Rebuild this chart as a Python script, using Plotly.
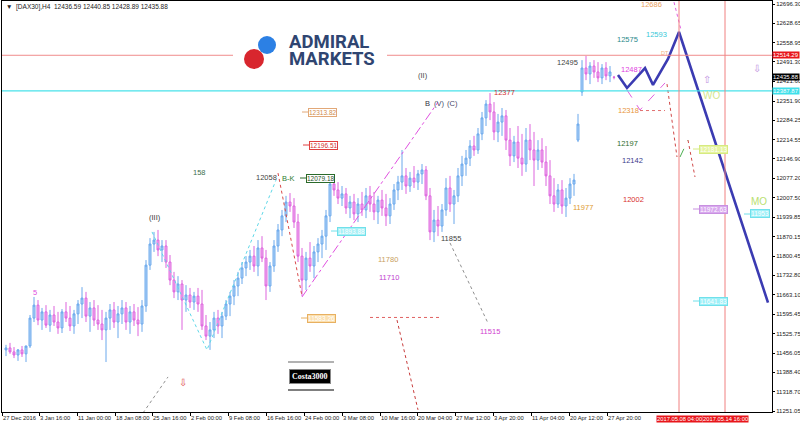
import plotly.graph_objects as go

# ---------------- data ----------------
opens = [11468, 11475, 11461, 11450, 11468, 11454, 11482, 11581, 11627, 11574,
         11603, 11556, 11592, 11567, 11546, 11603, 11581, 11553, 11596, 11631,
         11652, 11588, 11617, 11574, 11560, 11539, 11581, 11610, 11567, 11596,
         11617, 11567, 11603, 11574, 11560, 11624, 11769, 11844, 11858, 11823,
         11837, 11780, 11716, 11674, 11702, 11645, 11663, 11638, 11659, 11631,
         11553, 11517, 11539, 11581, 11553, 11588, 11631, 11659, 11695, 11723,
         11759, 11780, 11801, 11766, 11830, 11794, 11695, 11766, 11837, 11894,
         11944, 11993, 11979, 11922, 11801, 11716, 11794, 11766, 11816, 11844,
         11872, 11944, 12057, 12036, 12007, 12022, 11972, 11993, 11951, 11986,
         11965, 12015, 11986, 11958, 12000, 11972, 11944, 11986, 12036, 12064,
         12086, 12050, 12078, 12064, 12093, 12107, 12015, 11887, 11929, 11908,
         11965, 12043, 11986, 12015, 12086, 12128, 12149, 12192, 12178, 12235,
         12292, 12341, 12313, 12242, 12277, 12299, 12213, 12157, 12206, 12149,
         12128, 12213, 12178, 12142, 12178, 12135, 12086, 12015, 11986, 12036,
         11979, 12007, 12057, 12213, 12384, 12469, 12448, 12476, 12455, 12434,
         12469, 12441, 12436.59]
highs = [11486, 11493, 11478, 11471, 11482, 11475, 11592, 11656, 11645, 11617,
         11627, 11610, 11624, 11603, 11613, 11638, 11624, 11610, 11645, 11691,
         11674, 11638, 11645, 11627, 11610, 11603, 11631, 11638, 11624, 11645,
         11638, 11624, 11631, 11620, 11645, 11787, 11865, 11887, 11894, 11858,
         11858, 11805, 11745, 11730, 11716, 11698, 11688, 11674, 11688, 11681,
         11592, 11567, 11603, 11610, 11603, 11645, 11674, 11716, 11745, 11780,
         11801, 11823, 11837, 11858, 11872, 11823, 11780, 11858, 11915, 11965,
         12015, 12025, 12007, 11951, 11830, 11816, 11851, 11837, 11865, 11894,
         11965, 12078, 12086, 12064, 12050, 12043, 12015, 12022, 12007, 12029,
         12043, 12050, 12029, 12015, 12036, 12022, 12007, 12057, 12086, 12178,
         12114, 12100, 12121, 12107, 12128, 12121, 12043, 11965, 11979, 11986,
         12078, 12086, 12036, 12114, 12157, 12178, 12213, 12228, 12256, 12313,
         12355, 12380, 12348, 12306, 12327, 12320, 12256, 12228, 12263, 12235,
         12256, 12270, 12242, 12213, 12220, 12192, 12142, 12078, 12057, 12071,
         12043, 12078, 12093, 12306, 12497, 12512, 12490, 12497, 12490, 12483,
         12490, 12476, 12440.85]
lows = [11446, 11454, 11439, 11429, 11443, 11425, 11475, 11567, 11556, 11539,
        11546, 11532, 11553, 11525, 11528, 11567, 11535, 11525, 11560, 11581,
        11567, 11532, 11553, 11539, 11503, 11425, 11539, 11546, 11510, 11560,
        11539, 11525, 11553, 11517, 11532, 11603, 11752, 11816, 11801, 11780,
        11759, 11698, 11652, 11645, 11539, 11603, 11617, 11610, 11603, 11539,
        11503, 11468, 11510, 11525, 11510, 11574, 11588, 11627, 11659, 11702,
        11730, 11752, 11745, 11730, 11780, 11645, 11674, 11745, 11816, 11872,
        11922, 11958, 11901, 11780, 11659, 11681, 11745, 11723, 11780, 11794,
        11823, 11922, 12015, 11986, 11979, 11951, 11936, 11929, 11922, 11944,
        11936, 11958, 11929, 11915, 11944, 11908, 11915, 11965, 12000, 12036,
        12022, 12029, 12043, 12036, 12057, 12000, 11858, 11851, 11872, 11887,
        11944, 11958, 11915, 11993, 12050, 12086, 12121, 12157, 12164, 12213,
        12263, 12284, 12213, 12206, 12228, 12178, 12121, 12135, 12114, 12086,
        12100, 12142, 12050, 12107, 12114, 12050, 11986, 11958, 11972, 11951,
        11940, 11986, 12015, 12206, 12370, 12426, 12412, 12434, 12419, 12412,
        12426, 12419, 12428.89]
closes = [11475, 11461, 11450, 11468, 11454, 11482, 11581, 11627, 11574, 11603,
          11556, 11592, 11567, 11546, 11603, 11581, 11553, 11596, 11631, 11652,
          11588, 11617, 11574, 11560, 11539, 11581, 11610, 11567, 11596, 11617,
          11567, 11603, 11574, 11560, 11624, 11769, 11844, 11858, 11823, 11837,
          11780, 11716, 11674, 11702, 11645, 11663, 11638, 11659, 11631, 11553,
          11517, 11539, 11581, 11553, 11588, 11631, 11659, 11695, 11723, 11759,
          11780, 11801, 11766, 11830, 11794, 11695, 11766, 11837, 11894, 11944,
          11993, 11979, 11922, 11801, 11716, 11794, 11766, 11816, 11844, 11872,
          11944, 12057, 12036, 12007, 12022, 11972, 11993, 11951, 11986, 11965,
          12015, 11986, 11958, 12000, 11972, 11944, 11986, 12036, 12064, 12086,
          12050, 12078, 12064, 12093, 12107, 12015, 11887, 11929, 11908, 11965,
          12043, 11986, 12015, 12086, 12128, 12149, 12192, 12178, 12235, 12292,
          12341, 12313, 12242, 12277, 12299, 12213, 12157, 12206, 12149, 12128,
          12213, 12178, 12142, 12178, 12135, 12086, 12015, 11986, 12036, 11979,
          12007, 12057, 12071, 12270, 12469, 12448, 12476, 12455, 12434, 12469,
          12441, 12455, 12435.88]

# x-axis labels (bar positions) and texts
x_tick_pos = [-1, 8.25, 17.75, 27.25, 36.5, 46, 55.5, 65, 74.5, 84, 93.5,
              102.75, 112.25, 121.75, 131.25, 140.75, 150.25]
x_tick_text = ["27 Dec 2016", "3 Jan 16:00", "11 Jan 00:00", "18 Jan 08:00",
               "25 Jan 16:00", "2 Feb 00:00", "9 Feb 08:00", "16 Feb 16:00",
               "24 Feb 00:00", "3 Mar 08:00", "10 Mar 16:00", "20 Mar 04:00",
               "27 Mar 12:00", "3 Apr 20:00", "11 Apr 04:00", "20 Apr 12:00",
               "27 Apr 20:00"]
y_tick_vals = [12696.30, 12628.65, 12558.95, 12491.30, 12421.60, 12351.90,
               12284.25, 12214.55, 12146.90, 12077.20, 12007.50, 11939.85,
               11870.15, 11800.45, 11732.80, 11663.10, 11595.45, 11525.75,
               11456.05, 11388.40, 11318.70, 11251.05]

# future vertical markers
vline_pos = [168.25, 179.75]
vline_text = ["2017.05.08 04:00", "2017.05.14 16:00"]

# horizontal levels
level_red = 12514.29
level_cyan = 12387.87
last_price = 12435.88

# projection path
proj_x = [153, 155.25, 159.75, 161.75, 165.5, 168.25, 190.5]
proj_y = [12444, 12398, 12469, 12409, 12501, 12597, 11636]

# wave drawings (bar index, price)
wave_lines = [
    ([36.5, 50.25, 67.5], [11887, 11468, 12071], "#5fd8e8", "dot"),
    ([68, 74], [12096, 11659], "#d84a4a", "dot"),
    ([74, 108], [11656, 12348], "#e050e0", "dashdot"),
    ([111, 120.5], [11848, 11563], "#909090", "dot"),
    ([91, 109], [11583.26, 11583.26], "#e06060", "dot"),
    ([97.75, 103], [11574, 11255], "#c83c3c", "dot"),
    ([34.25, 40.5], [11244, 11372], "#909090", "dot"),
    ([155.25, 158.5, 164.75], [12391, 12320, 12416], "#e060e0", "dash"),
    ([158.5, 164.75], [12318, 12318], "#e07070", "dot"),
    ([165.25, 167.75], [12412, 12153], "#d04848", "dot"),
    ([168.5, 170.5], [12153, 12213], "#4caf50", "dash"),
    ([170.5, 172.25], [12213, 12082], "#d04848", "dot"),
    ([167, 168.75], [12703, 12604], "#e060e0", "dot"),
]

# ---------------- layout geometry ----------------
W, H = 800, 426
ML, MR, MT, MB = 2, 28, 1, 14
PW = W - ML - MR
PH = H - MT - MB
Y_RANGE = [11247.5, 12707.0]
X_RANGE = [-1.0, 191.5]
FONT = "Liberation Sans, Arial"


def px(x):
    return (x - ML) / PW


def py(y):
    return (H - MB - y) / PH


fig = go.Figure()

fig.add_trace(go.Candlestick(
    x=list(range(len(closes))), open=opens, high=highs, low=lows, close=closes,
    increasing=dict(line=dict(color="#6aa8ec", width=1), fillcolor="#b3d5f7"),
    decreasing=dict(line=dict(color="#dd64dd", width=1), fillcolor="#f2b4f2"),
    whiskerwidth=0, hoverinfo="skip", showlegend=False))

for xs, ys, col, dash in wave_lines:
    fig.add_trace(go.Scatter(x=xs, y=ys, mode="lines", hoverinfo="skip",
                             line=dict(color=col, width=1, dash=dash),
                             showlegend=False))

fig.add_trace(go.Scatter(x=proj_x, y=proj_y, mode="lines", hoverinfo="skip",
                         line=dict(color="#3b3bb2", width=2.6),
                         showlegend=False))

shapes = []
# red level, interrupted by the logo
shapes.append(dict(type="line", xref="paper", yref="y", x0=0, x1=px(233),
                   y0=level_red, y1=level_red, line=dict(color="#f08c8c", width=1)))
shapes.append(dict(type="line", xref="paper", yref="y", x0=px(387), x1=1,
                   y0=level_red, y1=level_red, line=dict(color="#f08c8c", width=1)))
shapes.append(dict(type="line", xref="paper", yref="y", x0=0, x1=1,
                   y0=level_cyan, y1=level_cyan, line=dict(color="#48e2ea", width=1.2)))
for v in vline_pos:
    shapes.append(dict(type="line", xref="x", yref="paper", x0=v, x1=v, y0=0, y1=1,
                       line=dict(color="#f08080", width=1)))


def circle(cx, cy, r, col):
    return dict(type="circle", xref="paper", yref="paper",
                x0=px(cx - r), x1=px(cx + r), y0=py(cy + r), y1=py(cy - r),
                fillcolor=col, line=dict(width=0))


shapes.append(circle(267, 45, 9, "#2c80e4"))
shapes.append(circle(254, 59, 10, "#d8262e"))

# Costa3000 rules
shapes.append(dict(type="line", xref="paper", yref="paper", x0=px(288), x1=px(334),
                   y0=py(362), y1=py(362), line=dict(color="#999", width=1.5)))
shapes.append(dict(type="line", xref="paper", yref="paper", x0=px(288), x1=px(334),
                   y0=py(390), y1=py(390), line=dict(color="#000", width=1.2)))

annotations = []


def txt(t, x, y, col, size=7.5, anchor="center", family=FONT, yanchor="middle", **kw):
    annotations.append(dict(text=t, x=px(x), y=py(y), xref="paper", yref="paper",
                            xanchor=anchor, yanchor=yanchor, showarrow=False,
                            font=dict(size=size, color=col, family=family), **kw))


# title
txt("▼  [DAX30],H4  12436.59 12440.85 12428.89 12435.88", 4, 7, "#222", 6.5, "left")

# logo text
txt("<b>ADMIRAL</b>", 288, 41.5, "#2f4571", 18.5, "left", "Roboto", borderpad=0)
txt("<b>MARKETS</b>", 288, 58.5, "#2f4571", 18.5, "left", "Roboto", borderpad=0)

labels = [
    ("(III)", 155, 217, "#333"), ("5", 35, 292, "#e050e0"), ("158", 200, 172, "#3b6e4e"),
    ("12058", 266, 177, "#444"), ("B-K", 288, 178, "#2e7d32"), ("(II)", 423, 75, "#444"),
    ("B", 427, 103, "#334"), ("(V)", 439, 103, "#446"), ("(C)", 452, 103, "#446"),
    ("12377", 504, 93, "#d03030"), ("11855", 451, 238, "#444"), ("11780", 388, 259, "#c8a060"),
    ("11710", 389, 277, "#c040d0"), ("11515", 490, 331, "#d040d0"), ("11977", 583, 207, "#e09a30"),
    ("12495", 567, 62, "#444"), ("12575", 627, 39, "#2a8a8a"), ("12593", 656, 34, "#38c8d8"),
    ("12686", 651, 5, "#e8a060"), ("12487", 631, 69, "#e040e0"), ("12318", 628, 110, "#e8963c"),
    ("12197", 627, 143, "#2e6e2e"), ("12142", 632, 160, "#3a3a8a"), ("12002", 633, 199, "#d83030"),
]
for t, x, y, c in labels:
    txt(t, x, y, c)
txt("MO", 759, 202, "#b8e070", 10)
txt("WO", 711, 95, "#d4e68c", 10)
txt("DT", 665, 53, "#f0b080", 5.5)
txt("⇩", 183, 382, "#e05050", 10)
txt("⇧", 707, 79, "#c090e0", 10)
txt("⇩", 757, 68, "#c090e0", 10)

# boxed price labels inside the plot: text, left x, y, border, bg, fg
boxes = [
    ("12313.82", 308, 112, "#e2a878", "#ffffff", "#d08a4a"),
    ("12196.51", 309, 145, "#e04040", "#ffffff", "#d03030"),
    ("12079.18", 306, 178, "#2a6a2a", "#ffffff", "#1f4f1f"),
    ("11893.88", 337, 231, "#70e0ea", "#a8f0f6", "#ffffff"),
    ("11583.26", 307, 318, "#e8b060", "#fbe0b0", "#ffffff"),
    ("12181.13", 699, 149, "#d6ea80", "#e6f4a0", "#ffffff"),
    ("11972.63", 699, 209, "#c890e0", "#d8a8ee", "#ffffff"),
    ("11641.83", 699, 301, "#70e0ea", "#9ef0f8", "#ffffff"),
    ("11953", 750, 214, "#70e0ea", "#9ef0f8", "#ffffff"),
]
for t, x, y, bc, bg, fg in boxes:
    txt(t, x, y, fg, 6.5, "left", bgcolor=bg, bordercolor=bc, borderwidth=1, borderpad=0)
    shapes.append(dict(type="line", xref="paper", yref="paper", x0=px(x - 6), x1=px(x),
                       y0=py(y), y1=py(y), line=dict(color=bc, width=1)))

# Costa3000 box
txt("<b>Costa3000</b>", 310, 376, "#ffffff", 8, "center", "Liberation Serif",
    bgcolor="#000000", bordercolor="#888888", borderwidth=1, borderpad=2)

# right axis flags
for val, bg in [(level_red, "#e8161b"), (last_price, "#000000"), (level_cyan, "#3fe0ea")]:
    annotations.append(dict(text=f"{val:.2f}", x=1.0, y=val, xref="paper", yref="y",
                            xanchor="left", yanchor="middle", showarrow=False,
                            bgcolor=bg, borderpad=0,
                            font=dict(size=6, color="#ffffff", family=FONT)))

# bottom red date flags
for v, t in zip(vline_pos, vline_text):
    annotations.append(dict(text=t, x=v, y=py(419), xref="x", yref="paper",
                            xanchor="center", yanchor="middle", showarrow=False,
                            bgcolor="#e8161b", borderpad=0,
                            font=dict(size=5.8, color="#ffffff", family=FONT)))

fig.update_layout(
    width=W, height=H, margin=dict(l=ML, r=MR, t=MT, b=MB, autoexpand=False),
    paper_bgcolor="#ffffff", plot_bgcolor="#ffffff",
    shapes=shapes, annotations=annotations, showlegend=False,
    xaxis=dict(range=X_RANGE, tickvals=x_tick_pos, ticktext=x_tick_text,
               ticks="outside", ticklen=3, tickcolor="#000", tickangle=0,
               ticklabelposition="outside right", automargin=False,
               tickfont=dict(size=5.8, color="#222", family=FONT),
               showgrid=False, zeroline=False, showline=True, linecolor="#000",
               linewidth=1, mirror=True, rangeslider=dict(visible=False),
               fixedrange=True),
    yaxis=dict(range=Y_RANGE, side="right", tickvals=y_tick_vals,
               ticktext=[f"{v:.2f}" for v in y_tick_vals], automargin=False,
               ticks="outside", ticklen=2, tickcolor="#000",
               tickfont=dict(size=6, color="#222", family=FONT),
               showgrid=False, zeroline=False, showline=True, linecolor="#000",
               linewidth=1, mirror=True, fixedrange=True),
)

fig.write_html("out.html", config={"displayModeBar": False},
               post_script="document.body.style.margin='0px';document.body.style.padding='0px';")
